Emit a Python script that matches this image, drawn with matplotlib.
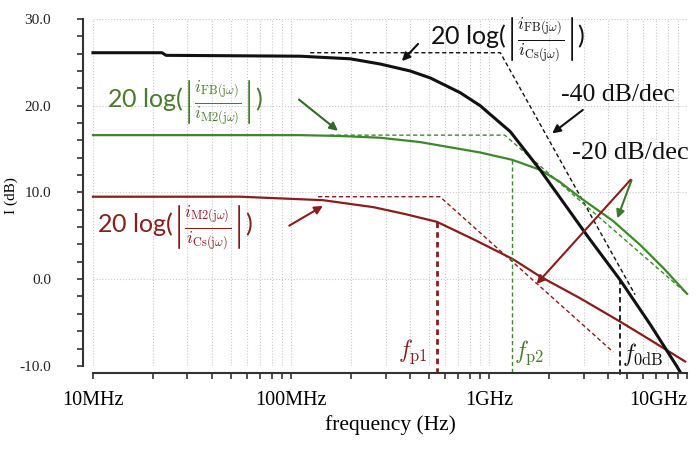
import matplotlib
matplotlib.use("Agg")
import matplotlib.pyplot as plt
from matplotlib.ticker import FixedLocator, LogLocator, NullFormatter

plt.rcParams['mathtext.fontset'] = 'cm'

# curves (Hz, dB)
f_fb_cs = [1.00e7, 2.23e7, 2.34e7, 1.11e8, 1.99e8, 2.82e8, 3.99e8, 5.04e8, 7.14e8,
           9.01e8, 1.28e9, 1.81e9, 2.28e9, 3.13e9, 4.59e9, 6.50e9, 8.90e9, 9.22e9]
db_fb_cs = [26.1, 26.1, 25.8, 25.7, 25.4, 24.8, 24.0, 23.2, 21.5,
            20.0, 17.0, 12.6, 9.4, 5.0, -0.1, -5.2, -10.1, -10.7]

f_fb_m2 = [1.00e7, 1.11e8, 1.77e8, 2.82e8, 4.48e8, 6.35e8, 9.01e8, 1.31e9, 1.81e9,
           2.28e9, 2.88e9, 4.23e9, 5.79e9, 7.57e9, 1.00e10]
db_fb_m2 = [16.6, 16.6, 16.5, 16.3, 15.8, 15.2, 14.6, 13.75, 12.6,
            11.2, 9.4, 6.7, 3.95, 1.3, -1.7]

f_m2_cs = [1.00e7, 5.53e7, 1.45e8, 2.60e8, 3.77e8, 5.46e8, 8.50e8, 1.32e9, 1.81e9,
           2.88e9, 4.59e9, 6.50e9, 9.77e9]
db_m2_cs = [9.5, 9.5, 9.1, 8.3, 7.5, 6.6, 4.5, 2.3, 0.3,
            -2.2, -4.9, -7.0, -9.5]

# asymptotes
f_asym_fb_cs = [1.25e8, 1.14e9, 5.46e9]
db_asym_fb_cs = [26.1, 26.1, -1.8]
f_asym_fb_m2 = [1.57e8, 1.20e9, 9.77e9]
db_asym_fb_m2 = [16.6, 16.6, -1.5]
f_asym_m2_cs = [1.37e8, 5.65e8, 4.23e9]
db_asym_m2_cs = [9.5, 9.5, -8.4]

# marker frequencies and the levels where the markers start
fp1, fp1_db = 5.46e8, 6.6
fp2, fp2_db = 1.31e9, 13.75
f0db, f0db_db = 4.59e9, 0.0

x_ticks = [1e7, 1e8, 1e9, 1e10]
x_labels = ['10MHz', '100MHz', '1GHz', '10GHz']
y_ticks = [-10, 0, 10, 20, 30]

BLACK = '#111111'
GREEN = '#3a8a2a'
GREEN_TXT = '#4a7a2c'
RED = '#8a1c1c'

fig = plt.figure(figsize=(6.99, 4.5), dpi=100)
ax = fig.add_axes([0.133, 0.187, 0.850, 0.771])
ax.set_xscale('log')
ax.set_xlim(1e7, 1e10)
ax.set_ylim(-10, 30)

for s in ['top', 'right']:
    ax.spines[s].set_visible(False)
ax.spines['left'].set_position(('outward', 7))
ax.spines['bottom'].set_position(('outward', 5))
ax.spines['left'].set_bounds(-10, 30)
for s in ['left', 'bottom']:
    ax.spines[s].set_color('#333333')
    ax.spines[s].set_linewidth(1.5)

ax.xaxis.set_major_locator(FixedLocator(x_ticks))
ax.set_xticklabels(x_labels, family='Liberation Serif', fontsize=14.5)
ax.xaxis.set_minor_locator(LogLocator(base=10, subs=range(2, 10)))
ax.xaxis.set_minor_formatter(NullFormatter())
ax.get_xticklabels()[-1].set_ha('right')

ax.set_yticks(y_ticks)
ax.set_yticklabels(['%.1f' % v for v in y_ticks], family='Liberation Serif',
                   fontsize=11, color='#222222')
ax.set_yticks(range(-10, 31, 2), minor=True)
ax.tick_params(axis='both', which='both', color='#333333', width=1.2, length=4)
ax.tick_params(axis='y', which='major', pad=19)
ax.tick_params(axis='x', which='major', pad=9)

ax.grid(True, axis='x', which='both', ls=':', color='#c8c8c8', lw=0.8)
ax.grid(True, axis='y', which='major', ls=':', color='#c8c8c8', lw=0.8)

ax.set_xlabel('frequency (Hz)', family='Liberation Serif', fontsize=15.5, labelpad=4)
ax.set_ylabel('I (dB)', family='Liberation Serif', fontsize=11)
ax.yaxis.set_label_coords(-0.126, 0.49)

# asymptotes
ax.plot(f_asym_fb_cs, db_asym_fb_cs, color=BLACK, lw=1.0, ls=(0, (3, 2)))
ax.plot(f_asym_fb_m2, db_asym_fb_m2, color=GREEN, lw=1.0, ls=(0, (3, 2)))
ax.plot(f_asym_m2_cs, db_asym_m2_cs, color=RED, lw=1.0, ls=(0, (3, 2)))

# curves
ax.plot(f_m2_cs, db_m2_cs, color=RED, lw=1.6, clip_on=False)
ax.plot(f_fb_m2, db_fb_m2, color=GREEN, lw=1.6, clip_on=False)
ax.plot(f_fb_cs, db_fb_cs, color=BLACK, lw=2.2, clip_on=False)

# pole / crossover markers
ax.plot([fp1, fp1], [fp1_db, -10.8], color=RED, lw=2.0, ls=(0, (2, 1.5)), clip_on=False)
ax.plot([fp2, fp2], [fp2_db, -10.8], color=GREEN, lw=1.0, ls=(0, (3, 2)), clip_on=False)
ax.plot([f0db, f0db], [f0db_db, -11.3], color=BLACK, lw=1.3, ls=(0, (3, 2)), clip_on=False)

ax.text(4.9e8, -8.4, r'$f_{\mathrm{p1}}$', color=RED, fontsize=17, ha='right', va='center')
ax.text(1.33e9, -8.5, r'$f_{\mathrm{p2}}$', color=GREEN_TXT, fontsize=17, ha='left', va='center')
ax.text(4.68e9, -8.7, r'$f_{\mathrm{0dB}}$', color=BLACK, fontsize=17, ha='left', va='center')

lbl_fb_cs = r'20 log($\left|\frac{i_{\mathrm{FB(j\omega)}}}{i_{\mathrm{Cs(j\omega)}}}\right|$)'
lbl_fb_m2 = r'20 log($\left|\frac{i_{\mathrm{FB(j\omega)}}}{i_{\mathrm{M2(j\omega)}}}\right|$)'
lbl_m2_cs = r'20 log($\left|\frac{i_{\mathrm{M2(j\omega)}}}{i_{\mathrm{Cs(j\omega)}}}\right|$)'

arrow = dict(arrowstyle='-|>', lw=1.5, mutation_scale=12)
ax.text(5.04e8, 27.6, lbl_fb_cs, family='Lato', fontsize=18, color=BLACK, ha='left', va='center')
ax.annotate('', xy=(3.55e8, 24.9), xytext=(4.48e8, 27.35),
            arrowprops=dict(arrow, color=BLACK))
ax.text(1.18e7, 20.3, lbl_fb_m2, family='Lato', fontsize=18, color=GREEN_TXT, ha='left', va='center')
ax.annotate('', xy=(1.77e8, 16.9), xytext=(1.07e8, 20.9),
            arrowprops=dict(arrow, color='#2f6a2a'))
ax.text(1.05e7, 5.9, lbl_m2_cs, family='Lato', fontsize=18, color=RED, ha='left', va='center')
ax.annotate('', xy=(1.49e8, 8.6), xytext=(9.53e7, 6.0),
            arrowprops=dict(arrow, color=RED))

ax.text(4.45e9, 21.2, '-40 dB/dec', family='Liberation Serif', fontsize=18.5,
        color=BLACK, ha='center', va='center')
ax.annotate('', xy=(2.03e9, 16.6), xytext=(3.05e9, 19.7),
            arrowprops=dict(arrow, color=BLACK))
ax.text(5.2e9, 14.55, '-20 dB/dec', family='Liberation Serif', fontsize=19,
        color=BLACK, ha='center', va='center')
ax.annotate('', xy=(4.39e9, 6.7), xytext=(5.3e9, 11.7),
            arrowprops=dict(arrow, color='#3f7a2a'))
ax.annotate('', xy=(1.7e9, -0.8), xytext=(5.3e9, 11.7),
            arrowprops=dict(arrow, color=RED))

fig.savefig('out.png', dpi=100)
